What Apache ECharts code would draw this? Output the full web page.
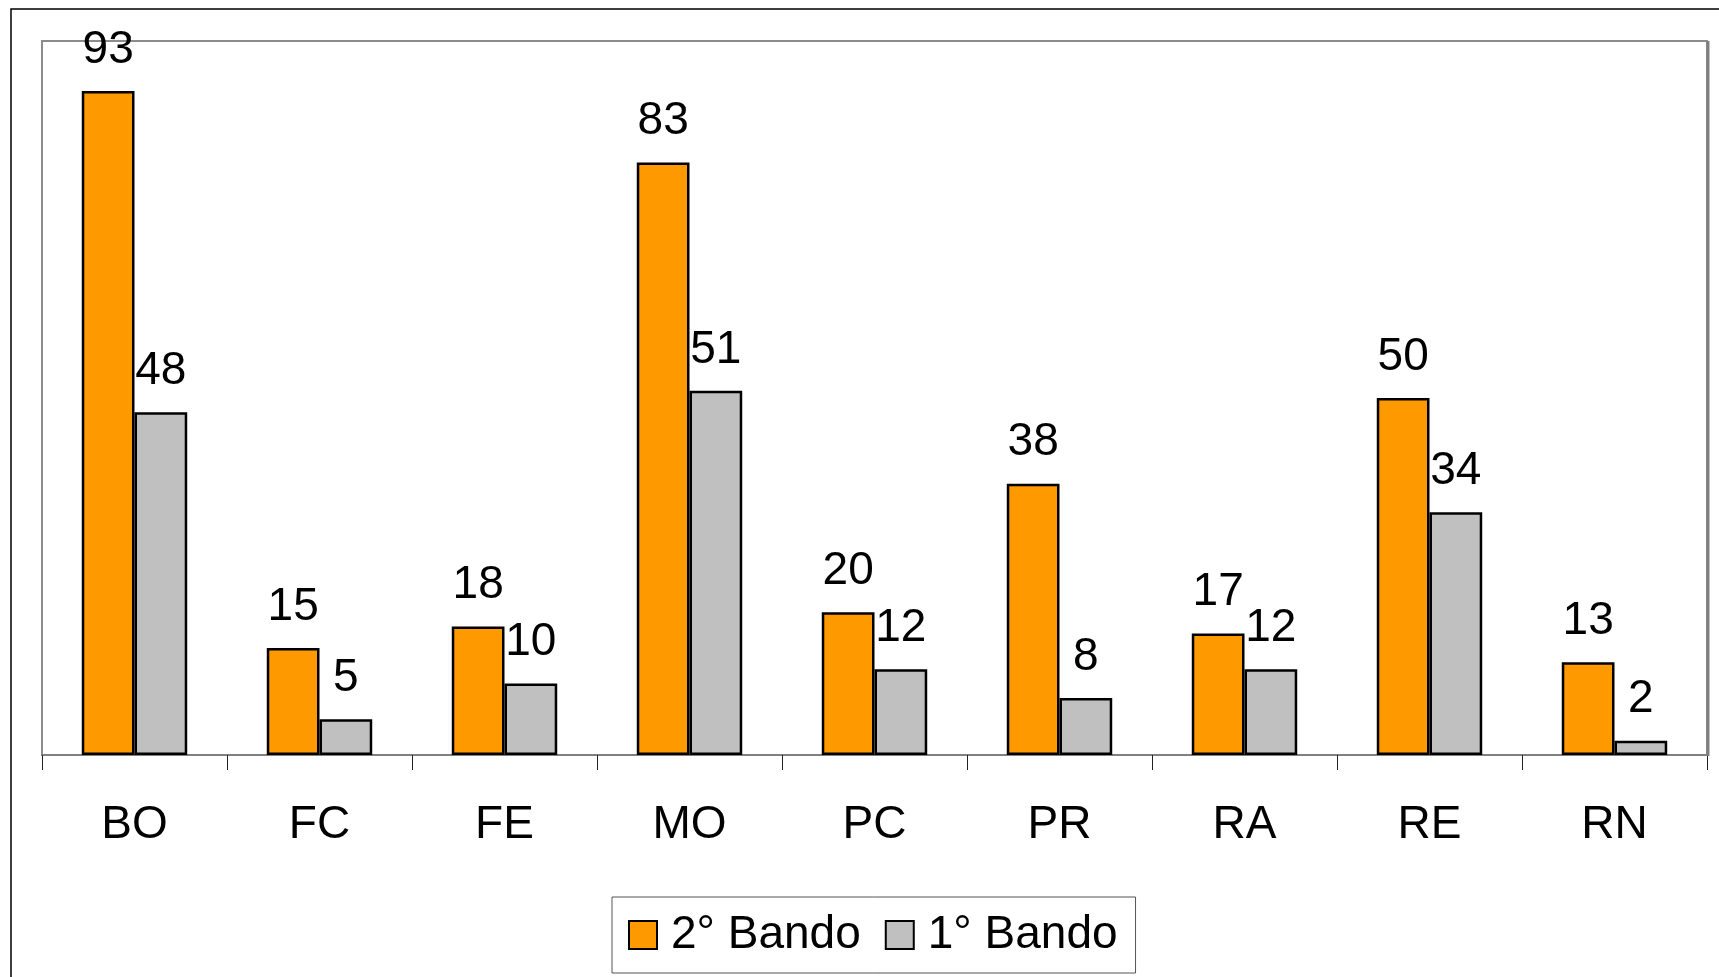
<!DOCTYPE html>
<html>
<head>
<meta charset="utf-8">
<script src="https://cdn.jsdelivr.net/npm/echarts@6/dist/echarts.min.js"></script>
<style>html,body{margin:0;padding:0;background:#fff;}#c{width:1719px;height:977px;}</style>
</head>
<body>
<div id="c"></div>
<script>
const categories = ['BO', 'FC', 'FE', 'MO', 'PC', 'PR', 'RA', 'RE', 'RN'];
const bando2 = [93, 15, 18, 83, 20, 38, 17, 50, 13];
const bando1 = [48, 5, 10, 51, 12, 8, 12, 34, 2];
const seriesNames = ['2° Bando', '1° Bando'];

const FONT = '"Liberation Sans", Arial, sans-serif';
const chart = echarts.init(document.getElementById('c'));
const labelStyle = {
  show: true, position: 'top', distance: 18,
  fontFamily: FONT, fontSize: 46, color: '#000'
};
chart.setOption({
  animation: false,
  backgroundColor: '#fff',
  graphic: [{
    type: 'rect', silent: true,
    shape: { x: 11, y: 9, width: 1800, height: 1100 },
    style: { fill: 'none', stroke: '#000', lineWidth: 1.5 }
  }, {
    type: 'line', silent: true, z: 10,
    shape: { x1: 1708, y1: 41, x2: 1708, y2: 756 },
    style: { stroke: '#808080', lineWidth: 3 }
  }],
  grid: {
    left: 42, right: 12, top: 41, bottom: 222,
    show: true, borderColor: '#8c8c8c', borderWidth: 2, backgroundColor: 'transparent'
  },
  legend: {
    left: 612, top: 897,
    padding: [15, 18, 15, 16],
    borderColor: '#555', borderWidth: 1,
    itemWidth: 28, itemHeight: 28, itemGap: 24,
    icon: 'rect',
    textStyle: { fontFamily: FONT, fontSize: 46, color: '#000', padding: [0, 0, 0, 9] },
    data: seriesNames
  },
  xAxis: {
    type: 'category', data: categories,
    axisLine: { show: true, lineStyle: { color: '#808080', width: 2 } },
    axisTick: { show: true, interval: 0, length: 15, lineStyle: { color: '#222', width: 1 } },
    axisLabel: { fontFamily: FONT, fontSize: 46, color: '#000', margin: 47 }
  },
  yAxis: {
    type: 'value', min: 0, max: 100,
    show: false, splitLine: { show: false }
  },
  series: [{
    name: seriesNames[0], type: 'bar', data: bando2,
    barGap: '0%', barCategoryGap: '43%',
    itemStyle: { color: '#FF9900', borderColor: '#000', borderWidth: 2.5 },
    label: labelStyle
  }, {
    name: seriesNames[1], type: 'bar', data: bando1,
    barGap: '0%', barCategoryGap: '43%',
    itemStyle: { color: '#C0C0C0', borderColor: '#000', borderWidth: 2.5 },
    label: labelStyle
  }]
});
</script>
</body>
</html>
